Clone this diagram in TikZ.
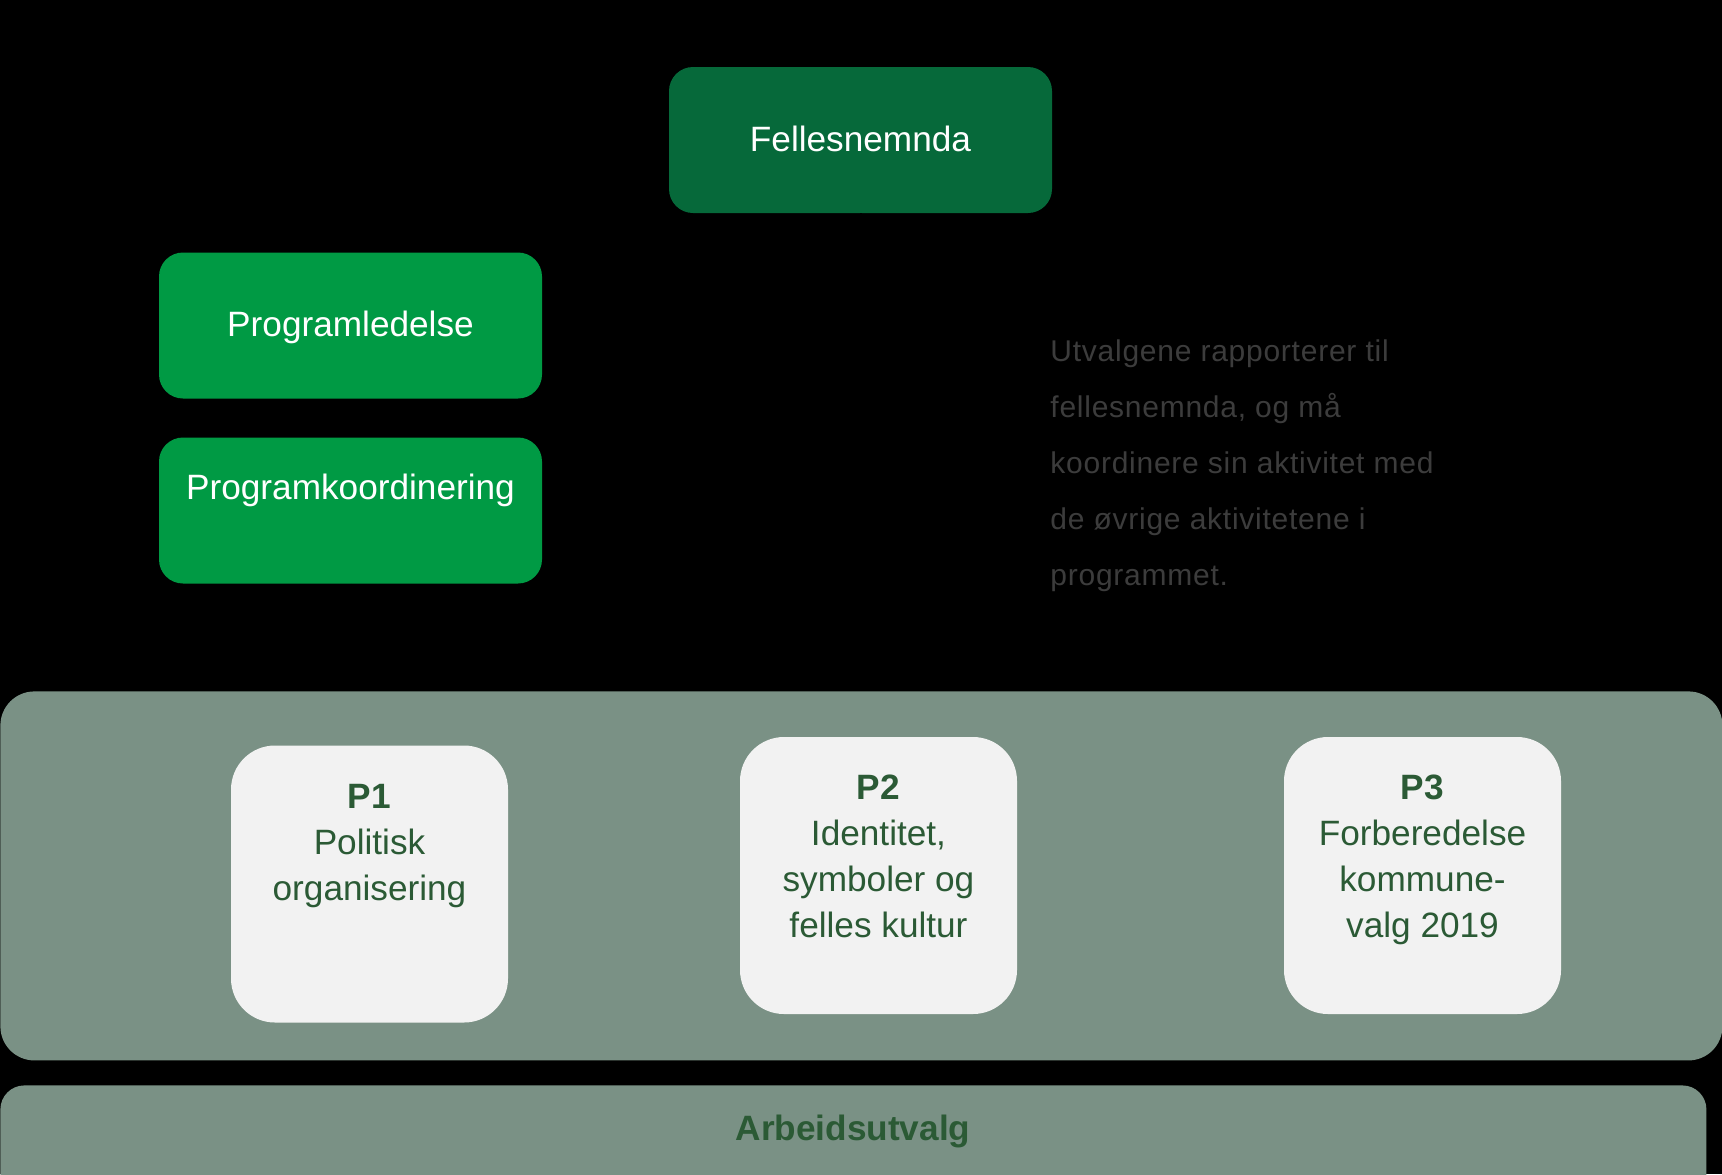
\documentclass[tikz,border=0pt]{standalone}
\usepackage{fontspec}
\setmainfont{Liberation Sans}
\definecolor{darkgreen}{HTML}{06693A}
\definecolor{midgreen}{HTML}{009A44}
\definecolor{panel}{HTML}{7A9185}
\definecolor{pbox}{HTML}{F2F2F2}
\definecolor{ptext}{HTML}{2B5A35}
\definecolor{desc}{HTML}{3C3C3C}
\begin{document}
\begin{tikzpicture}[x=0.5pt,y=-0.5pt,
  topbox/.style={rectangle, rounded corners=12pt, minimum width=191.5pt, minimum height=73pt, inner sep=0pt},
  boxtext/.style={text=white, font=\fontsize{17.6}{21}\selectfont, inner sep=0pt, anchor=base},
  progbox/.style={rectangle, rounded corners=22pt, fill=pbox, minimum width=138.5pt, minimum height=138.5pt, inner sep=0pt},
  progtext/.style={text=ptext, font=\fontsize{17.6}{23}\selectfont, align=center, inner sep=0pt, anchor=north},
  link/.style={draw=black, line width=1pt}]
\fill[black] (0,0) rectangle (1722,1174);
\useasboundingbox (0,0) rectangle (1722,1174);
\clip (0,0) rectangle (1722,1174);

% top boxes
\node[topbox, fill=darkgreen] (fn) at (860.5,140) {};
\node[boxtext] (fnt) at (860.5,151.6) {Fellesnemnda};
\node[topbox, fill=midgreen] (pl) at (350.5,325.5) {};
\node[boxtext] (plt) at (350.5,336.6) {Programledelse};
\node[topbox, fill=midgreen] (pk) at (350.5,510.5) {};
\node[boxtext] (pkt) at (350.5,499.6) {Programkoordinering};

% description
\node[anchor=north west, inner sep=0pt, text=desc, align=left,
      font=\fontsize{15}{28}\selectfont\addfontfeatures{LetterSpace=2.5}] (desc) at (1050,339.3)
  {Utvalgene rapporterer til\\fellesnemnda, og må\\koordinere sin aktivitet med\\de øvrige aktivitetene i\\programmet.};

% panel
\node[rectangle, rounded corners=17pt, fill=panel, minimum width=861pt, minimum height=184.5pt, inner sep=0pt, anchor=north west] (panel) at (0,691) {};
\coordinate (pkend) at (350.5,691);
\coordinate (fnend) at (860.5,691);
\draw[link] (pk.south) -- (pkend);
\draw[link] (fn.south) -- (fnend);

% program boxes
\node[progbox] (p1) at (369.5,884) {};
\node[progtext] (p1t) at (369.5,783.4) {\textbf{P1}\\Politisk\\organisering};
\node[progbox] (p2) at (878.5,875.5) {};
\node[progtext] (p2t) at (878.5,774.4) {\textbf{P2}\\Identitet,\\symboler og\\felles kultur};
\node[progbox] (p3) at (1422.5,875.5) {};
\node[progtext] (p3t) at (1422.5,774.4) {\textbf{P3}\\Forberedelse\\kommune-\\valg 2019};

% Arbeidsutvalg
\node[rectangle, rounded corners=12pt, fill=panel, minimum width=853pt, minimum height=70pt, inner sep=0pt, anchor=north west] (au) at (0,1085) {};
\node[text=ptext, font=\fontsize{17.6}{21}\selectfont\bfseries, inner sep=0pt, anchor=base] (aut) at (853,1140.6) {Arbeidsutvalg};
\end{tikzpicture}
\end{document}
